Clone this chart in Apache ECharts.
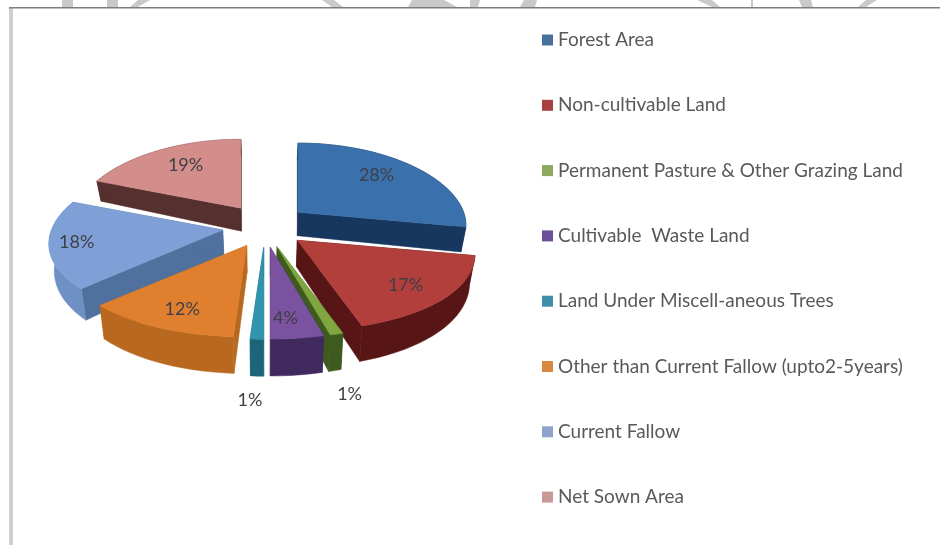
<!DOCTYPE html>
<html>
<head>
<meta charset="utf-8">
<style>html,body{margin:0;padding:0;background:#fff}#c{width:940px;height:545px}</style>
<script src="https://cdn.jsdelivr.net/npm/echarts@6/dist/echarts.min.js"></script>
</head>
<body>
<div id="c"></div>
<script>
const categories = ['Forest Area','Non-cultivable Land','Permanent Pasture & Other Grazing Land','Cultivable  Waste Land','Land Under Miscell-aneous Trees','Other than Current Fallow (upto2-5years)','Current Fallow','Net Sown Area'];
const values = [28,17,1,4,1,12,18,19];
const topColors = ['#3a70ab','#b23f3c','#7fa63f','#7a529f','#2f94ae','#e0802e','#7fa0d6','#d38d8b'];
const rimColors = ['#17375e','#571615','#3f5a1f','#402a5e','#1c6478','#b8691f','#6f90c4','#56302f'];
const faceColors = ['#17375e','#571615','#3f5a1f','#402a5e','#1c6478','#b8691f','#50709d','#56302f'];
const legendColors = ['#47709f','#a84040','#8fa860','#6c4f99','#3f8ea8','#d9873f','#8fa3cc','#c79a98'];
const drawOrder = [7,0,6,1,5,2,3,4];
const labelFx = [0.68,0.73,1,0.56,1,0.72,0.84,0.68];
const labelFy = [0.80,0.79,1,0.78,1,0.78,0.80,0.75];

const CX=265, CY=226, EX=43, EY=21.6, RX=170, RY=78.4, PX=0.17, PY=0.1155;
const total = values.reduce((a,b)=>a+b,0);
const rad = d => d*Math.PI/180;
function rim(t,m){const v=Math.cos(t)+0.25*Math.cos(m);return [RX*Math.sin(t)/(1+PX*v),-RY*Math.cos(t)/(1+PY*v)];}
function depth(y){return 20+(y-180)*0.1066;}
function under(p){return [p[0]+(265-p[0])*0.025,p[1]+depth(p[1])];}

function renderSlice(params,api){
  const i=params.seriesIndex, v=api.value(0);
  let before=0; for(let k=0;k<i;k++) before+=values[k];
  const a=rad(before/total*360), b=rad((before+v)/total*360), m=(a+b)/2;
  const ax=CX+EX*Math.sin(m), ay=CY-EY*Math.cos(m);
  const n=Math.max(4,Math.ceil((b-a)/rad(3)));
  const arc=[];
  for(let k=0;k<=n;k++){const r=rim(a+(b-a)*k/n,m);arc.push([ax+r[0],ay+r[1]]);}
  const apex=[ax,ay], apexB=under(apex);
  const rank=drawOrder.indexOf(i)*10;
  const poly=(pts,fill,z)=>({type:'polygon',shape:{points:pts},style:{fill:fill,stroke:fill,lineWidth:0.5},z2:rank+z,silent:true});
  const children=[
    poly([apex,arc[0],under(arc[0]),apexB],faceColors[i],1),
    poly([apex,arc[n],under(arc[n]),apexB],faceColors[i],2),
    poly(arc.concat(arc.map(under).reverse()),rimColors[i],3),
    poly([apex].concat(arc),topColors[i],4)
  ];
  const r=rim(m,m);
  let lx,ly;
  if(v<2){
    lx=ax+r[0]+(Math.sin(m)>0?13:-7);
    ly=ay+r[1]+depth(ay+r[1])+24;
  }else{
    lx=ax+r[0]*labelFx[i]; ly=ay+r[1]*labelFy[i];
  }
  children.push({type:'text',z2:1000,silent:true,style:{text:Math.round(v/total*100)+'%',x:lx,y:ly,align:'center',verticalAlign:'middle',fill:'#3f3f46',font:'18px Lato'}});
  return {type:'group',children:children};
}

const strips=[[62,0,73,0,73,7,62,7],[107,0,118,0,118,7,107,7],[138,0,150,0,138,7,130,7],[322,0,334,0,343,7,332,7],[412,0,444,0,457,7,408,7],[470,0,480,0,478,7,470,7],[524,0,537,0,535,7,520,7],[697,0,712,0,720,7,712,7],[751,0,753,0,753,7,751,7],[799,0,811,0,813,7,802,7],[866,0,877,0,866,7,858,7]];
const graphicEls=strips.map(s=>({type:'polygon',z:0,silent:true,shape:{points:[[s[0],s[1]],[s[2],s[3]],[s[4],s[5]],[s[6],s[7]]]},style:{fill:'#c9c9c9'}}));
graphicEls.push({type:'rect',z:1,silent:true,shape:{x:9,y:8,width:4,height:537},style:{fill:'#cfcfcf'}});
graphicEls.push({type:'rect',z:1,silent:true,shape:{x:9,y:7,width:931,height:1.6},style:{fill:'#7d7d7d'}});

const chart=echarts.init(document.getElementById('c'),null,{renderer:'canvas'});
chart.setOption({
  animation:false,
  backgroundColor:'#ffffff',
  graphic:graphicEls,
  tooltip:{show:false},
  legend:{
    orient:'vertical',left:537,top:25,itemWidth:11,itemHeight:11,itemGap:45.3,selectedMode:false,icon:'rect',
    textStyle:{fontFamily:'Lato',fontSize:19,color:'#595959',lineHeight:20},
    data:categories
  },
  series:categories.map((name,i)=>({
    type:'custom',name:name,coordinateSystem:'none',
    renderItem:renderSlice,silent:true,clip:false,
    itemStyle:{color:legendColors[i]},
    data:[[values[i]]]
  }))
});
</script>
</body>
</html>
